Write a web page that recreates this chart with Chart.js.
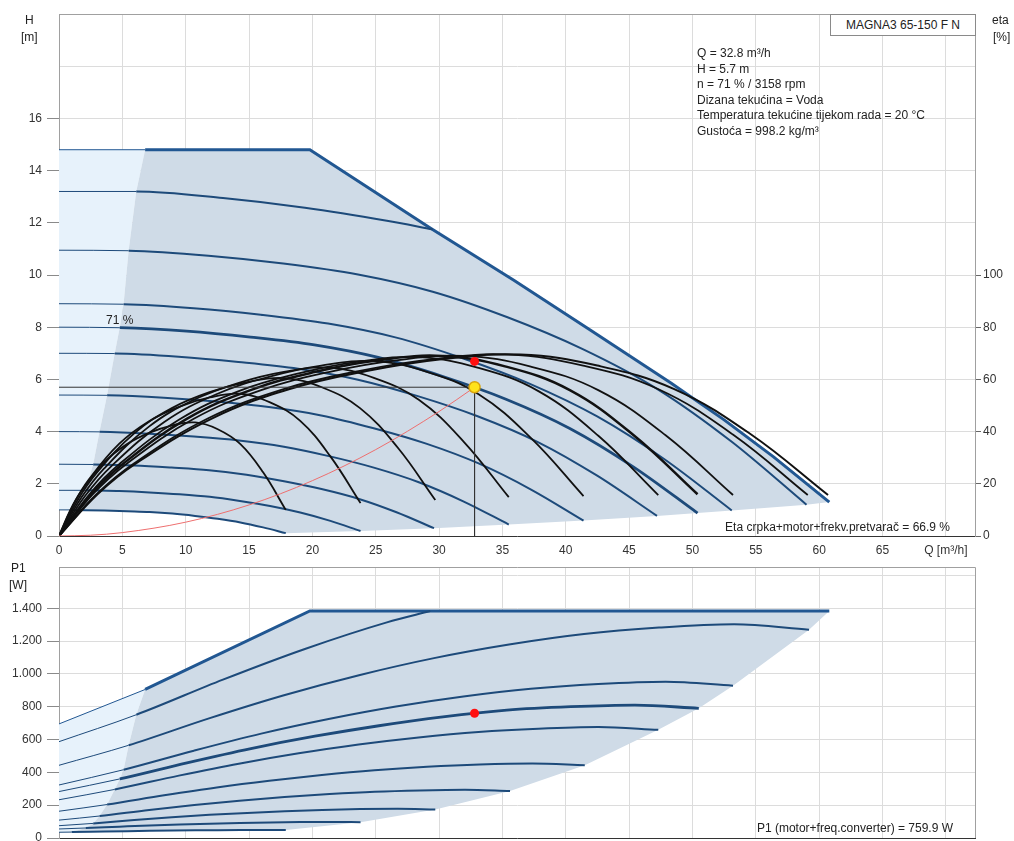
<!DOCTYPE html>
<html>
<head>
<meta charset="utf-8">
<script src="https://cdn.jsdelivr.net/npm/chart.js@4.4.0/dist/chart.umd.min.js"></script>
<style>
  html, body { margin: 0; padding: 0; background: #fff; overflow: hidden; width: 1014px; height: 841px; }
  #wrap { position: relative; width: 1014px; height: 841px; overflow: hidden;
          font-family: "Liberation Sans", Arial, sans-serif; font-size: 12px; color: #222; }
  canvas { position: absolute; left: 0; }
  #headChart { top: 0; }
  #powerChart { top: 555px; }
  .t { position: absolute; white-space: nowrap; line-height: 14px; }
  #model { position: absolute; left: 830px; top: 14px; width: 144px; height: 20px; border: 1px solid #8a8a8a;
           background: #fff; text-align: center; line-height: 20px; box-sizing: content-box; }
  #info { position: absolute; left: 697px; top: 46px; line-height: 15.5px; white-space: nowrap; }
</style>
</head>
<body>
<div id="wrap">
  <canvas id="headChart" width="1014" height="565"></canvas>
  <canvas id="powerChart" width="1014" height="300"></canvas>

  <div class="t" style="left:25px;top:13px">H</div>
  <div class="t" style="left:21px;top:30px">[m]</div>
  <div class="t" style="left:992px;top:13px">eta</div>
  <div class="t" style="left:993px;top:30px">[%]</div>
  <div class="t" style="left:11px;top:561px">P1</div>
  <div class="t" style="left:9px;top:578px">[W]</div>
  <div class="t" style="left:106px;top:313px">71 %</div>

  <div id="model">MAGNA3 65-150 F N</div>
  <div id="info">
    Q = 32.8 m³/h<br>
    H = 5.7 m<br>
    n = 71 % / 3158 rpm<br>
    Dizana tekućina = Voda<br>
    Temperatura tekućine tijekom rada = 20 °C<br>
    Gustoća = 998.2 kg/m³
  </div>
  <div class="t" style="right:64px;top:520px">Eta crpka+motor+frekv.pretvarač = 66.9 %</div>
  <div class="t" style="right:61px;top:821px">P1 (motor+freq.converter) = 759.9 W</div>
</div>

<script>
// ---------- Q axis ticks [m³/h] ----------
const flowTicks = [0, 5, 10, 15, 20, 25, 30, 35, 40, 45, 50, 55, 60, 65, 70];

// ---------- head curves H [m] vs Q, one per speed step ----------
const headMax = [[0,14.8],[6.8,14.8],[19.8,14.8],[29.3,11.8],[35.9,9.8],[41.9,7.9],[48.3,5.86],[52.5,4.45],[56.4,3.03],[60.8,1.3]];
const head13  = [[0,13.2],[6.1,13.2],[12.94,12.95],[19.41,12.58],[25.88,12.08],[29.5,11.75]];
const head11  = [[0,10.95],[5.5,10.93],[11.8,10.74],[17.7,10.44],[23.6,10.02],[29.5,9.36],[35.4,8.38],[41.3,7.17],[47.2,5.64],[53.1,3.61],[59.0,1.2]];
const head9   = [[0,8.9],[5.1,8.88],[10.62,8.73],[15.93,8.48],[21.24,8.14],[26.55,7.61],[31.86,6.81],[37.17,5.83],[42.48,4.58],[47.79,2.94],[53.1,0.98]];
const head8   = [[0,8.0],[4.8,7.98],[10.08,7.85],[15.12,7.62],[20.16,7.32],[25.2,6.84],[30.24,6.12],[35.28,5.24],[40.32,4.12],[45.36,2.64],[50.4,0.88]];
const head7   = [[0,7.0],[4.4,6.99],[9.44,6.87],[14.16,6.67],[18.88,6.41],[23.6,5.99],[28.32,5.36],[33.04,4.59],[37.76,3.61],[42.48,2.31],[47.2,0.77]];
const head5   = [[0,5.4],[3.8,5.39],[8.28,5.3],[12.42,5.15],[16.56,4.94],[20.7,4.62],[24.84,4.13],[28.98,3.54],[33.12,2.78],[37.26,1.78],[41.4,0.59]];
const head4   = [[0,4.0],[3.2,3.99],[7.1,3.92],[10.65,3.81],[14.2,3.66],[17.75,3.42],[21.3,3.06],[24.85,2.62],[28.4,2.06],[31.95,1.32],[35.5,0.44]];
const head3   = [[0,2.75],[2.7,2.74],[5.92,2.7],[8.88,2.62],[11.84,2.52],[14.8,2.35],[17.76,2.1],[20.72,1.8],[23.68,1.42],[26.64,0.91],[29.6,0.3]];
const head2   = [[0,1.75],[2.1,1.75],[4.76,1.72],[7.14,1.67],[9.52,1.6],[11.9,1.5],[14.28,1.34],[16.66,1.15],[19.04,0.9],[21.42,0.58],[23.8,0.19]];
const head1   = [[0,1.0],[1.0,1.0],[3.58,0.98],[5.37,0.95],[7.16,0.92],[8.95,0.86],[10.74,0.77],[12.53,0.66],[14.32,0.52],[16.11,0.33],[17.9,0.11]];

// ---------- efficiency curves eta [%] vs Q ----------
const eta1  = [[0,0],[0.9,10],[1.79,17.4],[3.58,28.3],[5.37,35.2],[7.16,39.6],[8.95,42.4],[10.74,43.5],[12.53,40.9],[14.32,35.2],[16.11,24.4],[17.9,10]];
const eta2  = [[0,0],[1.19,12.5],[2.38,21.8],[4.76,35.4],[7.14,44.1],[9.52,49.6],[11.9,53.1],[14.28,54.5],[16.66,51.2],[19.04,44.1],[21.42,30.5],[23.8,12.6]];
const eta3  = [[0,0],[1.49,13.9],[2.97,24.2],[5.94,39.3],[8.91,49],[11.88,55.1],[14.85,59],[17.82,60.5],[20.79,56.9],[23.76,49],[26.73,33.9],[29.7,13.8]];
const eta4  = [[0,0],[1.78,14.8],[3.55,25.8],[7.1,41.9],[10.65,52.2],[14.2,58.7],[17.75,62.9],[21.3,64.5],[24.85,60.6],[28.4,52.2],[31.95,36.1],[35.5,14.9]];
const eta5  = [[0,0],[2.07,15.4],[4.14,26.8],[8.28,43.6],[12.42,54.3],[16.56,61],[20.7,65.3],[24.84,67],[28.98,63],[33.12,54.3],[37.26,37.5],[41.4,15.3]];
const eta6  = [[0,0],[2.37,15.8],[4.73,27.4],[9.46,44.5],[14.19,55.5],[18.92,62.3],[23.65,66.8],[28.38,68.5],[33.11,64.4],[37.84,55.5],[42.57,38.4],[47.3,15.7]];
const eta8  = [[0,0],[2.52,15.9],[5.04,27.6],[10.08,44.9],[15.12,55.9],[20.16,62.8],[25.2,67.3],[30.24,69],[35.28,64.9],[40.32,55.9],[45.36,38.6],[50.4,16]];
const eta9  = [[0,0],[2.66,15.9],[5.32,27.6],[10.64,44.9],[15.96,55.9],[21.28,62.8],[26.6,67.3],[31.92,69],[37.24,64.9],[42.56,55.9],[47.88,38.6],[53.2,15.7]];
const eta11 = [[0,0],[2.96,16],[5.91,27.8],[11.82,45.2],[17.73,56.3],[23.64,63.2],[29.55,67.8],[35.46,69.5],[41.37,65.3],[47.28,56.3],[53.19,38.9],[59.1,15.7]];
const etaMax= [[0,0],[3.04,16],[6.07,27.8],[12.14,45.2],[18.21,56.3],[24.28,63.2],[30.35,67.8],[36.42,69.5],[42.49,65.3],[48.56,56.3],[54.63,38.9],[60.7,15.7]];

// ---------- system curve and duty point ----------
const systemCurve = [[0,0],[2.5,0.03],[5,0.13],[10,0.53],[15,1.19],[20,2.12],[25,3.31],[30,4.77],[32.8,5.7]];
const dutyQ = 32.8, dutyH = 5.7, dutyEta = 66.9, dutyP1 = 759.9;

// ---------- operating ranges in the H/Q field ----------
const headRange = [[1.0,1.0],[2.1,1.75],[2.7,2.75],[3.2,4.0],[3.8,5.4],[4.4,7.0],[4.8,8.0],[5.1,8.9],[5.5,10.95],[6.1,13.2],[6.8,14.8],
  [19.8,14.8],[29.3,11.8],[35.9,9.8],[41.9,7.9],[48.3,5.86],[52.5,4.45],[56.4,3.03],[60.8,1.3],
  [59.0,1.2],[53.1,0.98],[50.4,0.88],[47.2,0.77],[41.4,0.59],[35.5,0.44],[29.6,0.3],[23.8,0.19],[17.9,0.11],
  [16.11,0.33],[14.32,0.52],[12.53,0.66],[10.74,0.77],[8.95,0.86],[7.16,0.92],[5.37,0.95],[3.58,0.98],[1.0,1.0]];
const headLowFlow = [[0,1.0],[0,14.8],[6.8,14.8],[6.1,13.2],[5.5,10.95],[5.1,8.9],[4.8,8.0],[4.4,7.0],[3.8,5.4],[3.2,4.0],[2.7,2.75],[2.1,1.75],[1.0,1.0]];

// ---------- power curves P1 [W] vs Q ----------
const powerMax = [[0,695],[6.8,905],[19.8,1383],[60.8,1383]];
const power13  = [[0,587],[6.1,751],[12.94,965],[19.41,1152],[25.88,1314],[29.3,1383]];
const power11  = [[0,443],[5.5,565],[11.84,729],[17.76,870],[23.68,992],[29.6,1096],[35.52,1179],[41.44,1243],[47.36,1282],[53.28,1302],[59.2,1269]];
const power9   = [[0,323],[5.1,416],[10.64,532],[15.96,636],[21.28,725],[26.6,801],[31.92,862],[37.24,909],[42.56,938],[47.88,952],[53.2,928]];
const power8   = [[0,283],[4.8,360],[10.1,458],[15.15,545],[20.2,620],[25.25,684],[30.3,738],[35.35,779],[40.4,800],[45.45,810],[50.5,790]];
const power7   = [[0,233],[4.4,296],[9.46,380],[14.19,453],[18.92,516],[23.65,570],[28.38,613],[33.11,646],[37.84,666],[42.57,676],[47.3,659]];
const power5   = [[0,163],[3.8,204],[8.3,260],[12.45,308],[16.6,349],[20.75,384],[24.9,413],[29.05,434],[33.2,448],[37.35,454],[41.5,443]];
const power4   = [[0,109],[3.2,134],[7.12,171],[10.68,201],[14.24,227],[17.8,250],[21.36,268],[24.92,282],[28.48,290],[32.04,294],[35.6,287]];
const power3   = [[0,75],[2.7,89],[5.94,109],[8.91,126],[11.88,141],[14.85,153],[17.82,163],[20.79,171],[23.76,176],[26.73,178],[29.7,174]];
const power2   = [[0,55],[2.1,61],[4.76,69],[7.14,76],[9.52,82],[11.9,87],[14.28,92],[16.66,95],[19.04,97],[21.42,98],[23.8,96]];
const power1   = [[0,35],[1.0,36],[3.58,39.5],[5.37,41.7],[7.16,43.6],[8.95,45.3],[10.74,46.6],[12.53,47.6],[14.32,48.2],[16.11,48.5],[17.9,48]];

const powerRange = [[1.0,36],[2.1,61],[2.7,89],[3.2,134],[3.8,204],[4.4,296],[4.8,360],[5.1,416],[5.5,565],[6.1,751],[6.8,905],
  [19.8,1383],[60.8,1383],[59.2,1269],[53.2,928],[50.5,790],[47.3,659],[41.5,443],[35.6,287],[29.7,174],[23.8,96],[17.9,48],
  [16.11,48.5],[14.32,48.2],[12.53,47.6],[10.74,46.6],[8.95,45.3],[7.16,43.6],[5.37,41.7],[3.58,39.5],[1.0,36]];
const powerLowFlow = [[0,35],[0,695],[6.8,905],[6.1,751],[5.5,565],[5.1,416],[4.8,360],[4.4,296],[3.8,204],[3.2,134],[2.7,89],[2.1,61],[1.0,36]];

// ---------- styling ----------
const FONT = { family: '"Liberation Sans", Arial, sans-serif', size: 12 };
const TICK_TXT = '#333';
const GRID = '#dcdcdc';
const FRAME = '#a0a0a0';
const CURVE_BLUE = '#1d4a7a';
const MAX_BLUE = '#215792';
const RANGE_FILL = '#cfdbe7';
const LOWFLOW_FILL = '#e7f2fb';

function region(data, color, order) {
  return { data, backgroundColor: color, borderWidth: 0, pointRadius: 0, fill: 'shape', tension: 0, order };
}
// speed curve: thin in the low-flow zone, heavier inside the operating range
function speedCurve(data, width, color, straight) {
  return {
    data, borderColor: color || CURVE_BLUE, borderWidth: width, pointRadius: 0, fill: false,
    tension: 0, cubicInterpolationMode: straight ? 'default' : 'monotone',
    segment: { borderWidth: c => (c.p0DataIndex === 0 ? 1 : width) },
    borderCapStyle: 'butt', order: 50
  };
}
function etaCurve(data, width) {
  return { data, yAxisID: 'y2', borderColor: '#111', borderWidth: width, pointRadius: 0, fill: false,
           tension: 0.4, order: 40 };
}
function fmtThousands(v) {
  if (v >= 1000) return Math.floor(v / 1000) + '.' + String(v % 1000).padStart(3, '0');
  return String(v);
}

// top and right frame of each plot
const framePlugin = {
  id: 'frame',
  afterDraw(chart) {
    const { ctx, chartArea: a } = chart;
    ctx.save();
    ctx.strokeStyle = FRAME;
    ctx.lineWidth = 1;
    ctx.beginPath();
    ctx.moveTo(a.left, Math.round(a.top) + 0.5);
    ctx.lineTo(Math.round(a.right) + 0.5, Math.round(a.top) + 0.5);
    ctx.lineTo(Math.round(a.right) + 0.5, a.bottom);
    ctx.stroke();
    ctx.restore();
  }
};

function flowAxis(height) {
  return {
    type: 'linear', min: 0, max: 72.3,
    afterBuildTicks: s => { s.ticks = flowTicks.map(v => ({ value: v })); },
    afterFit: s => { s.height = height; },
    ticks: { font: FONT, color: TICK_TXT, padding: 7, maxRotation: 0, autoSkip: false,
             callback: v => (v === 70 ? 'Q [m³/h]' : String(v)) },
    grid: { color: GRID, drawTicks: false },
    border: { color: '#333' }
  };
}

Chart.defaults.font = FONT;

// ---------- H / eta chart ----------
new Chart(document.getElementById('headChart'), {
  type: 'line',
  data: {
    datasets: [
      region(headLowFlow, LOWFLOW_FILL, 100),
      region(headRange, RANGE_FILL, 99),
      speedCurve(head1, 2), speedCurve(head2, 2), speedCurve(head3, 2), speedCurve(head4, 2),
      speedCurve(head5, 2), speedCurve(head7, 2), speedCurve(head8, 2.8), speedCurve(head9, 2),
      speedCurve(head11, 2), speedCurve(head13, 2), speedCurve(headMax, 3, MAX_BLUE, true),
      etaCurve(eta1, 1.8), etaCurve(eta2, 1.8), etaCurve(eta3, 1.8), etaCurve(eta4, 1.8),
      etaCurve(eta5, 1.8), etaCurve(eta6, 1.8), etaCurve(eta8, 2.5), etaCurve(eta9, 1.8),
      etaCurve(eta11, 1.8), etaCurve(etaMax, 2),
      { data: systemCurve, borderColor: '#ee6f6f', borderWidth: 1, pointRadius: 0, fill: false,
        cubicInterpolationMode: 'monotone', order: 30 },
      { data: [[0, dutyH], [dutyQ, dutyH], [dutyQ, 0]], borderColor: '#333', borderWidth: 1,
        pointRadius: 0, fill: false, tension: 0, order: 20 },
      { data: [[dutyQ, dutyEta]], yAxisID: 'y2', showLine: false, pointRadius: 4.5,
        pointBackgroundColor: '#ff1010', pointBorderColor: '#ff1010', pointBorderWidth: 0, order: 9 },
      { data: [[dutyQ, dutyH]], showLine: false, pointRadius: 5.5,
        pointBackgroundColor: '#ffe21c', pointBorderColor: '#d9a40e', pointBorderWidth: 1.5, order: 8 }
    ]
  },
  options: {
    responsive: false, animation: false, events: [],
    layout: { padding: { top: 14, left: 0, right: 0, bottom: 0 }, autoPadding: false },
    plugins: { legend: { display: false }, tooltip: { enabled: false } },
    scales: {
      x: flowAxis(29),
      y: {
        type: 'linear', position: 'left', min: 0, max: 20,
        afterFit: s => { s.width = 59; },
        ticks: { stepSize: 2, font: FONT, color: TICK_TXT, padding: 5,
                 callback: v => (v <= 16 ? String(v) : '') },
        grid: { color: c => (c.tick && c.tick.value === 20 ? FRAME : GRID), tickLength: 12,
                tickColor: c => (c.tick && c.tick.value <= 16 ? '#8a8a8a' : 'rgba(0,0,0,0)') },
        border: { color: FRAME }
      },
      y2: {
        type: 'linear', position: 'right', min: 0, max: 200,
        afterFit: s => { s.width = 39; },
        ticks: { stepSize: 20, font: FONT, color: TICK_TXT, padding: 2,
                 callback: v => (v <= 100 ? String(v) : '') },
        grid: { drawOnChartArea: false, tickLength: 6,
                tickColor: c => (c.tick && c.tick.value <= 100 ? '#666' : 'rgba(0,0,0,0)') },
        border: { color: FRAME }
      }
    }
  },
  plugins: [framePlugin]
});

// ---------- P1 chart ----------
new Chart(document.getElementById('powerChart'), {
  type: 'line',
  data: {
    datasets: [
      region(powerLowFlow, LOWFLOW_FILL, 100),
      region(powerRange, RANGE_FILL, 99),
      speedCurve(power1, 2), speedCurve(power2, 2), speedCurve(power3, 2), speedCurve(power4, 2),
      speedCurve(power5, 2), speedCurve(power7, 2), speedCurve(power8, 2.8), speedCurve(power9, 2),
      speedCurve(power11, 2), speedCurve(power13, 2), speedCurve(powerMax, 3, MAX_BLUE, true),
      { data: [[dutyQ, dutyP1]], showLine: false, pointRadius: 4.5,
        pointBackgroundColor: '#ff1010', pointBorderColor: '#ff1010', pointBorderWidth: 0, order: 9 }
    ]
  },
  options: {
    responsive: false, animation: false, events: [],
    layout: { padding: { top: 8, left: 0, right: 39, bottom: 0 }, autoPadding: false },
    plugins: { legend: { display: false }, tooltip: { enabled: false } },
    scales: {
      x: flowAxis(17),
      y: {
        type: 'linear', position: 'left', min: 0, max: 1650,
        afterBuildTicks: s => { s.ticks = [0,200,400,600,800,1000,1200,1400,1600].map(v => ({ value: v })); },
        afterFit: s => { s.width = 59; },
        ticks: { font: FONT, color: TICK_TXT, padding: 5,
                 callback: v => (v <= 1400 ? fmtThousands(v) : '') },
        grid: { color: GRID, tickLength: 12,
                tickColor: c => (c.tick && c.tick.value <= 1400 ? '#8a8a8a' : 'rgba(0,0,0,0)') },
        border: { color: FRAME }
      }
    }
  },
  plugins: [framePlugin]
});
</script>
</body>
</html>
